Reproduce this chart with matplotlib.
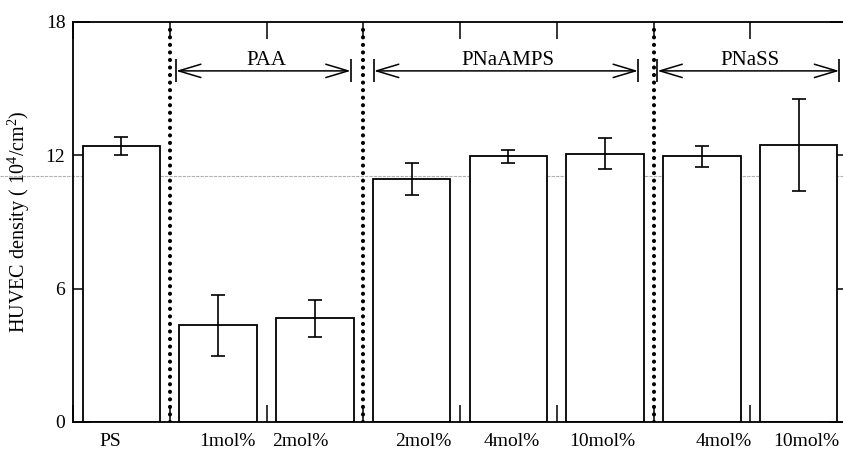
import numpy as np
import matplotlib
matplotlib.use("Agg")
import matplotlib.pyplot as plt
from matplotlib.transforms import blended_transform_factory

# ---- data ----
categories = ["PS", "1mol%", "2mol%", "2mol%", "4mol%", "10mol%", "4mol%", "10mol%"]
density = [12.42, 4.36, 4.66, 10.94, 11.95, 12.07, 11.95, 12.46]
error = [0.40, 1.37, 0.83, 0.72, 0.30, 0.70, 0.49, 2.06]
groups = ["PAA", "PNaAMPS", "PNaSS"]
group_start = [1, 3, 6]
group_end = [3, 6, 8]
yticks = [0, 6, 12, 18]

# ---- layout ----
label_x = [0.39, 1.60, 2.35, 3.62, 4.54, 5.47, 6.73, 7.58]
bracket_pad_left = [0.065, 0.11, 0.04]
bracket_pad_right = [0.13, 0.16, 0.08]
bracket_y = 15.8
bracket_half = 0.52
group_label_y = 16.07
scan_line_y = 11.05

plt.rcParams["font.family"] = ["Liberation Serif", "DejaVu Serif"]
plt.rcParams["mathtext.fontset"] = "custom"
plt.rcParams["mathtext.rm"] = "Liberation Serif"
plt.rcParams["mathtext.it"] = "Liberation Serif:italic"

fig = plt.figure(figsize=(8.43, 4.51), dpi=100)
ax = fig.add_axes([73 / 843, 1 - 422 / 451, 774 / 843, 400 / 451])

x = np.arange(len(density)) + 0.5
ax.bar(x, density, width=0.8, color="white", edgecolor="black", linewidth=1.3, zorder=2)
ax.errorbar(x, density, yerr=error, fmt="none", ecolor="black", elinewidth=1.2,
            capsize=4.7, capthick=1.2, zorder=3)

for s in group_start:
    ax.axvline(s, ymin=0, ymax=0.99, color="black", linewidth=3.0,
               linestyle=(0, (0.01, 1.8)), dash_capstyle="round", zorder=4)

for g, s, e, pl, pr in zip(groups, group_start, group_end, bracket_pad_left, bracket_pad_right):
    a, b = s + pl, e - pr
    ax.annotate("", xy=(a, bracket_y), xytext=(b, bracket_y),
                arrowprops=dict(arrowstyle="<->, head_length=1.6, head_width=0.48",
                                color="black", lw=1.1, shrinkA=0, shrinkB=0,
                                mutation_scale=10))
    ax.vlines([a, b], bracket_y - bracket_half, bracket_y + bracket_half,
              color="black", linewidth=1.2)
    ax.text((s + e) / 2, group_label_y, g, ha="center", va="baseline", fontsize=15)

ax.set_xlim(0, 8)
ax.set_ylim(0, 18)
ax.set_yticks(yticks)
ax.set_xticks(range(9))
ax.set_xticklabels([])
ax.set_xticks(label_x, labels=categories, minor=True)
ax.tick_params(axis="x", which="minor", length=0, pad=8, labelsize=14)
ax.tick_params(axis="both", which="major", direction="in", length=12, width=1.1,
               top=True, right=True, labelsize=14)
ax.tick_params(axis="y", pad=5.5)
for sp in ax.spines.values():
    sp.set_linewidth(1.3)

ax.set_ylabel("HUVEC density ( 10$^{4}$/cm$^{2}$)", fontsize=14.5, labelpad=10)

# faint scan line across the page
trans = blended_transform_factory(fig.transFigure, ax.transData)
ax.plot([0, 1], [scan_line_y, scan_line_y], transform=trans, clip_on=False,
        color="#b0b0b0", linewidth=0.8, linestyle=(0, (3, 1)), zorder=1)

fig.savefig("out.png", dpi=100)
